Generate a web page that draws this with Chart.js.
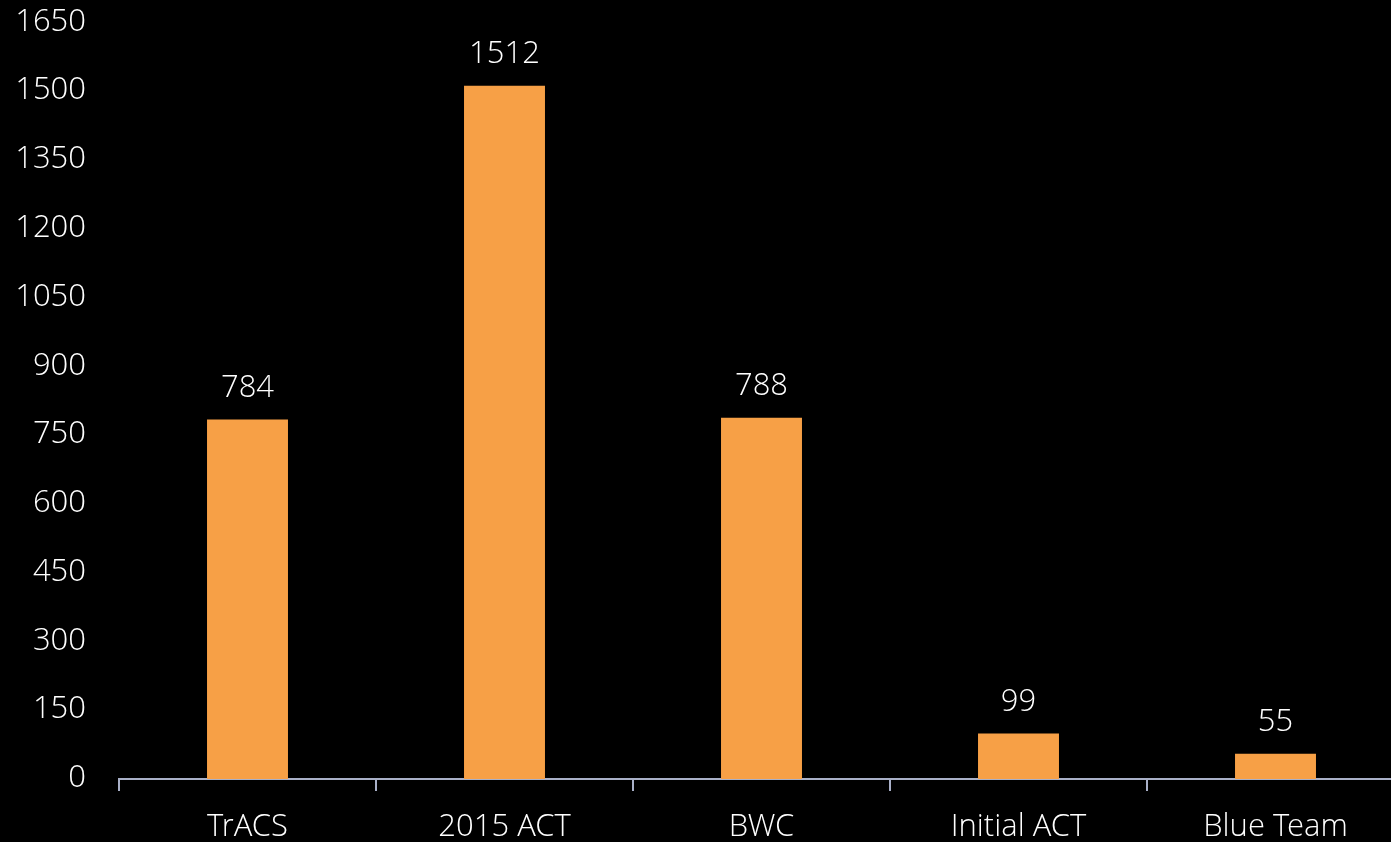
<!DOCTYPE html>
<html>
<head>
<meta charset="utf-8">
<script src="https://cdn.jsdelivr.net/npm/chart.js@4"></script>
<style>
  html, body { margin: 0; padding: 0; background: #000; overflow: hidden; }
  #wrap { position: absolute; left: 0; top: -21px; width: 1404px; height: 863px; }
</style>
</head>
<body>
<div id="wrap"><canvas id="barChart"></canvas></div>
<script>
// Chart data
const categories = ['TrACS', '2015 ACT', 'BWC', 'Initial ACT', 'Blue Team'];
const counts = [784, 1512, 788, 99, 55];
const yMin = 0;
const yMax = 1650;
const yStep = 150;

const barColor = '#F7A046';
const textColor = '#ffffff';
const axisColor = '#a9b0c8';
const fontFamily = '"Open Sans Light", "Open Sans", sans-serif';
const fontSpec = { family: fontFamily, size: 31, weight: 300 };

// Draws the value above each bar
const valueLabels = {
    id: 'valueLabels',
    afterDatasetsDraw(chart) {
        const ctx = chart.ctx;
        const meta = chart.getDatasetMeta(0);
        ctx.save();
        ctx.fillStyle = textColor;
        ctx.font = '300 31px ' + fontFamily;
        ctx.textAlign = 'center';
        ctx.textBaseline = 'bottom';
        meta.data.forEach(function(bar, i) {
            ctx.fillText(String(counts[i]), bar.x, bar.y - 15);
        });
        ctx.restore();
    }
};

let ctx = document.getElementById('barChart').getContext('2d');
let barChart = new Chart(ctx, {
    type: 'bar',
    data: {
        labels: categories,
        datasets: [{
            data: counts,
            backgroundColor: barColor,
            borderWidth: 0,
            categoryPercentage: 1,
            barPercentage: 0.315
        }]
    },
    options: {
        responsive: true,
        maintainAspectRatio: false,
        animation: false,
        layout: { padding: { top: 0, right: 0, left: 0, bottom: 0 } },
        plugins: {
            legend: { display: false },
            tooltip: { enabled: false }
        },
        scales: {
            x: {
                grid: {
                    display: true,
                    drawOnChartArea: false,
                    drawTicks: true,
                    tickLength: 12,
                    color: axisColor,
                    lineWidth: 2
                },
                border: { display: true, color: axisColor, width: 2 },
                ticks: { color: textColor, font: fontSpec, padding: 18, maxRotation: 0 },
                afterFit(scale) { scale.height = 63; }
            },
            y: {
                min: yMin,
                max: yMax,
                grid: { display: false },
                border: { display: false },
                ticks: {
                    stepSize: yStep,
                    color: textColor,
                    font: fontSpec,
                    padding: 25,
                    callback: function(value) { return String(value); }
                },
                afterFit(scale) { scale.width = 119; }
            }
        }
    },
    plugins: [valueLabels]
});
</script>
</body>
</html>
